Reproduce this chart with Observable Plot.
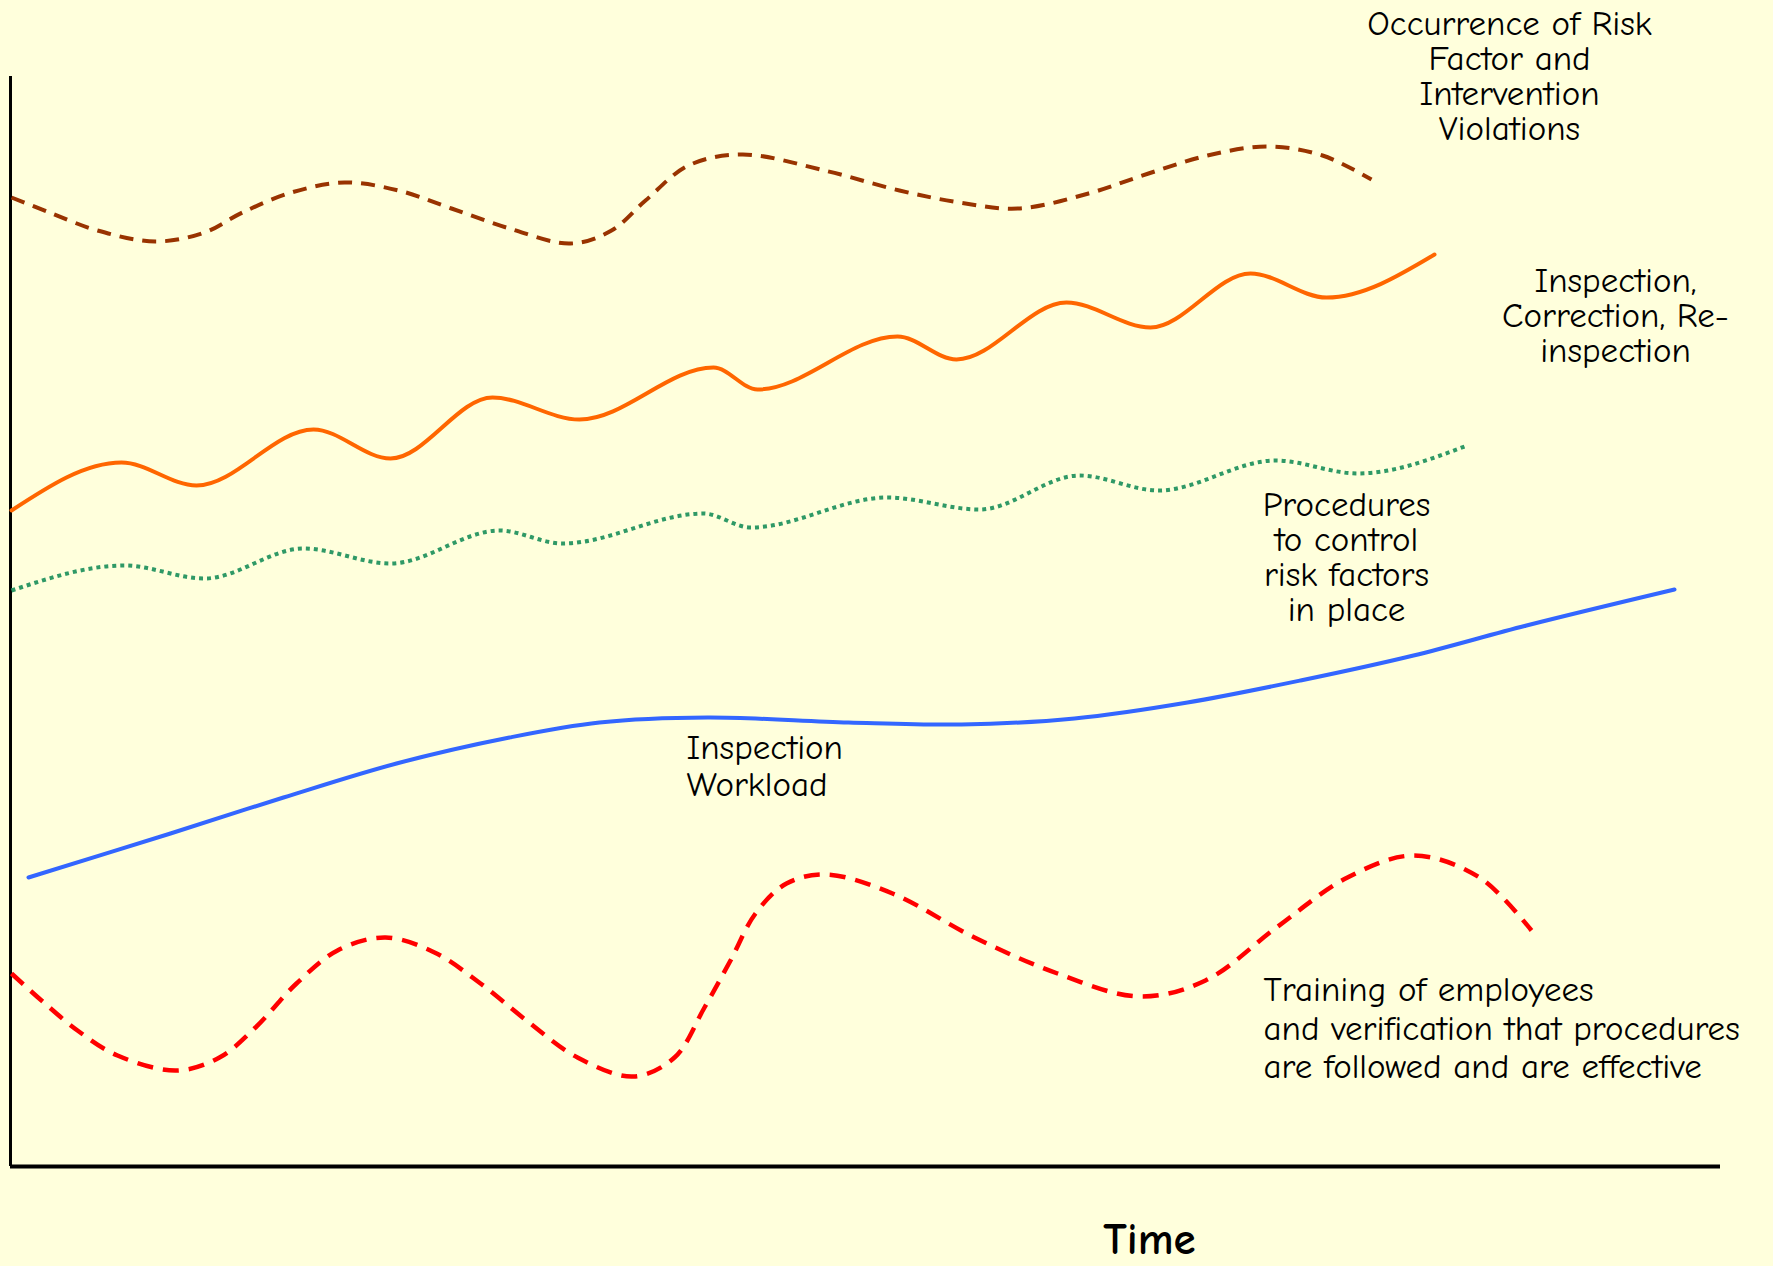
<!DOCTYPE html>
<html>
<head>
<meta charset="utf-8">
<script src="https://cdn.jsdelivr.net/npm/d3@7"></script>
<script src="https://cdn.jsdelivr.net/npm/@observablehq/plot@0.6"></script>
<style>
  html, body { margin: 0; padding: 0; background: #FFFFDC; }
  #chart svg { display: block; }
</style>
</head>
<body>
<div id="chart"></div>
<script>
// Conceptual chart: arbitrary time units (x) and level units (y)
const occurrence = [[0.1,96.9],[3.9,95.4],[8.7,93.6],[14.5,92.5],[19.4,93.4],[23.2,95.4],[28.1,97.4],[33.4,98.4],[38.8,97.6],[44.1,95.8],[49.9,93.8],[56.0,92.3],[60.1,93.6],[63.5,96.6],[67.8,100.1],[73.2,101.2],[81.4,99.6],[88.9,97.6],[94.9,96.4],[100.8,95.8],[107.8,97.3],[113.8,99.3],[119.7,101.1],[125.7,102.0],[131.2,101.1],[136.1,98.7]];
const inspection = [[0.1,65.6],[11.1,70.4],[18.6,68.1],[30.3,73.7],[38.0,70.8],[48.2,76.9],[56.9,74.7],[70.3,79.9],[74.7,77.7],[88.7,83.0],[94.6,80.7],[105.6,86.4],[114.0,83.9],[124.0,89.3],[131.6,86.9],[142.4,91.2]];
const procedures = [[0.1,57.6],[11.4,60.1],[19.4,58.8],[29.3,61.8],[38.0,60.3],[48.9,63.6],[55.2,62.3],[69.3,65.3],[74.0,63.9],[87.7,66.9],[96.9,65.7],[106.9,69.1],[114.8,67.6],[126.5,70.6],[134.7,69.3],[145.4,72.0]];
const workload = [[1.8,28.9],[16.0,33.3],[27.3,36.9],[38.6,40.3],[49.9,42.9],[58.9,44.4],[69.7,44.9],[83.8,44.4],[95.1,44.2],[106.4,44.8],[117.7,46.4],[129.0,48.6],[140.3,51.1],[151.6,54.1],[166.4,57.7]];
const training = [[0.1,19.3],[3.1,16.6],[6.7,13.6],[10.7,11.1],[16.6,9.6],[20.9,10.9],[24.5,13.9],[28.6,18.3],[32.7,21.6],[37.5,22.9],[42.4,21.4],[47.0,18.3],[51.6,14.6],[56.7,10.9],[62.3,9.0],[66.4,10.9],[69.4,15.9],[72.0,20.6],[74.5,25.3],[77.6,28.3],[81.6,29.2],[88.2,27.3],[96.4,22.9],[104.7,19.3],[112.9,17.0],[119.5,18.6],[126.6,23.9],[133.7,28.9],[140.3,31.1],[146.9,28.9],[152.1,23.6]];

const centeredTexts = [
  "Occurrence of Risk\nFactor and\nIntervention\nViolations",
  "Inspection,\nCorrection, Re-\ninspection",
  "Procedures\nto control\nrisk factors\nin place"
];
const centeredT = [149.9, 160.5, 133.6];
const centeredV = [109.0, 85.05, 60.9];
const centeredLabels = centeredTexts.map((text, i) => ({text, t: centeredT[i], v: centeredV[i]}));

const workloadLabel = [{text: "Inspection\nWorkload", t: 67.6, v: 40.05}];
const trainingLabel = [{text: "Training of employees\nand verification that procedures\nare followed and are effective", t: 125.3, v: 13.9}];
const axisLabel = [{text: "Time", t: 113.9, v: -7.3}];

const font = '"Comic Sans MS", "Comic Neue", Lato, sans-serif';
const X = d => d[0], Y = d => d[1];

const chart = Plot.plot({
  width: 1773,
  height: 1266,
  marginLeft: 10,
  marginRight: 53,
  marginTop: 76,
  marginBottom: 100,
  x: {domain: [0, 171], axis: null},
  y: {domain: [0, 109], axis: null},
  style: {background: "#FFFFDC", fontFamily: font, overflow: "visible"},
  marks: [
    Plot.ruleX([0], {y1: 0, y2: 109, stroke: "black", strokeWidth: 3}),
    Plot.ruleY([0], {x1: 0, x2: 171, stroke: "black", strokeWidth: 4}),
    Plot.line(occurrence, {x: X, y: Y, curve: "catmull-rom", stroke: "#993300", strokeWidth: 4, strokeDasharray: "14,9", strokeLinecap: "butt"}),
    Plot.line(inspection, {x: X, y: Y, curve: "monotone-x", stroke: "#FF6600", strokeWidth: 4}),
    Plot.line(procedures, {x: X, y: Y, curve: "monotone-x", stroke: "#2F9966", strokeWidth: 4, strokeDasharray: "4,4", strokeLinecap: "butt"}),
    Plot.line(workload, {x: X, y: Y, curve: "catmull-rom", stroke: "#3366FF", strokeWidth: 4}),
    Plot.line(training, {x: X, y: Y, curve: "catmull-rom", stroke: "#FF0000", strokeWidth: 4.5, strokeDasharray: "16,10", strokeLinecap: "butt"}),
    Plot.text(centeredLabels, {x: "t", y: "v", text: "text", textAnchor: "middle", lineAnchor: "middle", lineHeight: 1.0, fontSize: 35, fill: "black", fontFamily: font}),
    Plot.text(workloadLabel, {x: "t", y: "v", text: "text", textAnchor: "start", lineAnchor: "middle", lineHeight: 1.05, fontSize: 35, fill: "black", fontFamily: font}),
    Plot.text(trainingLabel, {x: "t", y: "v", text: "text", textAnchor: "start", lineAnchor: "middle", lineHeight: 1.1, fontSize: 35, fill: "black", fontFamily: font}),
    Plot.text(axisLabel, {x: "t", y: "v", text: "text", textAnchor: "middle", lineAnchor: "middle", fontSize: 45, fontWeight: "bold", fill: "black", fontFamily: font})
  ]
});
document.getElementById("chart").appendChild(chart);
</script>
</body>
</html>
